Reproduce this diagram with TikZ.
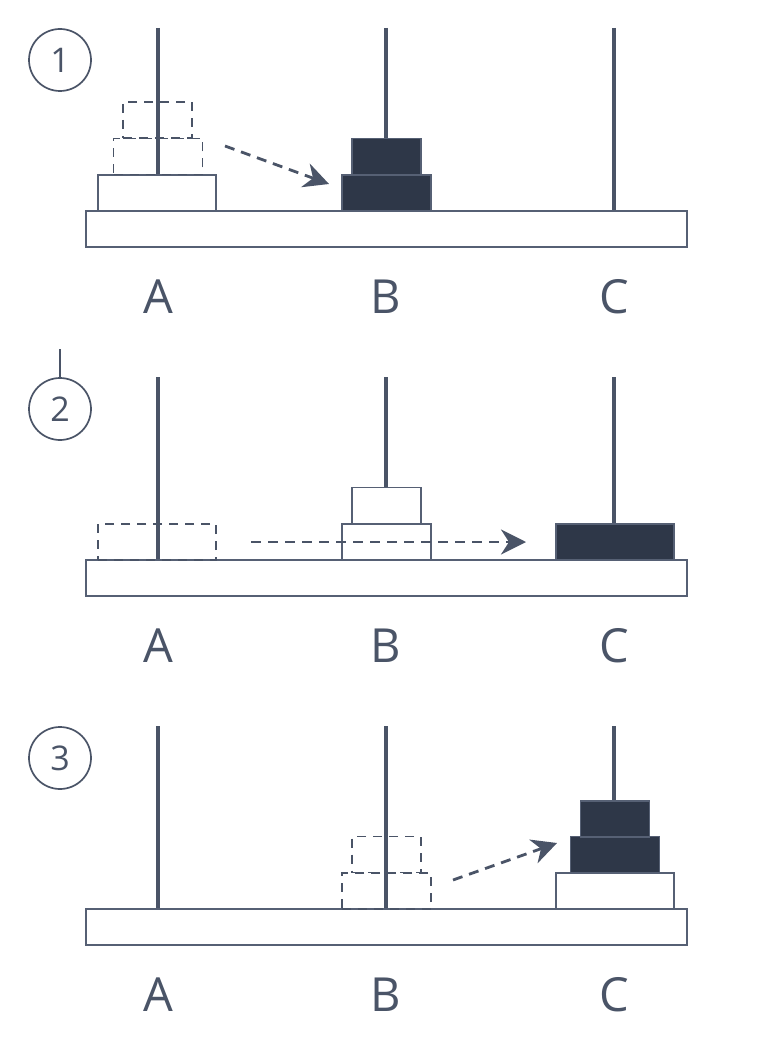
\documentclass[tikz,border=0pt]{standalone}
\usepackage{fontspec}
\setmainfont{Open Sans}
\usetikzlibrary{arrows.meta}
\definecolor{ink}{HTML}{4A5467}
\definecolor{edge}{HTML}{566074}
\definecolor{darkdisk}{HTML}{2E3748}
\begin{document}
\begin{tikzpicture}[x=1pt,y=-1pt,
  rod/.style={draw=ink,line width=3.4pt},
  basebox/.style={draw=edge,fill=white,line width=1.9pt,inner sep=0pt,minimum width=601pt,minimum height=36pt},
  disk/.style={draw=edge,fill=white,line width=1.9pt,inner sep=0pt,minimum height=36pt},
  ghost/.style={draw=ink,dash pattern=on 9pt off 7pt,line width=1.6pt,inner sep=0pt,minimum height=36pt},
  dark/.style={draw=edge,fill=darkdisk,line width=1.9pt,inner sep=0pt,minimum height=36pt},
  big/.style={minimum width=118pt},
  mid/.style={minimum width=89pt},
  small/.style={minimum width=69pt},
  mv/.style={draw=ink,line width=2.8pt,dash pattern=on 10pt off 7pt,-{Stealth[length=25pt,width=25pt,inset=8pt]}},
  lbl/.style={text=ink,font=\fontsize{47}{47}\selectfont,anchor=base,inner sep=0pt},
  num/.style={draw=ink,line width=1.7pt,circle,minimum size=62pt,inner sep=0pt,text=ink,font=\fontsize{34}{34}\selectfont},
]
\useasboundingbox (0,0) rectangle (773,1048);
\fill[white] (0,0) rectangle (773,1048);

% ---------- Panel 1 ----------
\node[num] (n1) at (60,60) {1};
\node[basebox] (base1) at (386.5,229) {};
\coordinate (rA1) at (158,28);
\coordinate (rB1) at (386,28);
\coordinate (rC1) at (614,28);
\draw[rod] (rA1) -- (base1.north -| rA1);
\draw[rod] (rB1) -- (base1.north -| rB1);
\draw[rod] (rC1) -- (base1.north -| rC1);
\node[disk,big] (a1L) at (157,193) {};
\node[ghost,mid] (a1M) at (158,156.5) {};
\node[ghost,small] (a1S) at (157.5,120) {};
\node[dark,mid] (b1M) at (386.5,193) {};
\node[dark,small] (b1S) at (386.5,156.5) {};
\coordinate (s1) at (225,146);
\coordinate (e1) at (329,184);
\draw[mv] (s1) -- (e1);
\node[lbl] (A1) at (158,313) {A};
\node[lbl] (B1) at (386,313) {B};
\node[lbl] (C1) at (614,313) {C};

% ---------- Panel 2 ----------
\node[num] (n2) at (60,409) {2};
\coordinate (t2) at (60,349);
\draw[draw=ink,line width=1.5pt] (t2) -- (n2.north);
\node[basebox] (base2) at (386.5,578) {};
\coordinate (rA2) at (158,377);
\coordinate (rB2) at (386,377);
\coordinate (rC2) at (614,377);
\draw[rod] (rA2) -- (base2.north -| rA2);
\draw[rod] (rB2) -- (base2.north -| rB2);
\draw[rod] (rC2) -- (base2.north -| rC2);
\node[ghost,big] (a2L) at (157,542) {};
\node[disk,mid] (b2M) at (386.5,542) {};
\node[disk,small] (b2S) at (386.5,505.5) {};
\node[dark,big] (c2L) at (615,542) {};
\coordinate (s2) at (251,542);
\coordinate (e2) at (526,542);
\draw[mv] (s2) -- (e2);
\node[lbl] (A2) at (158,662) {A};
\node[lbl] (B2) at (386,662) {B};
\node[lbl] (C2) at (614,662) {C};

% ---------- Panel 3 ----------
\node[num] (n3) at (60,758) {3};
\node[basebox] (base3) at (386.5,927) {};
\coordinate (rA3) at (158,726);
\coordinate (rB3) at (386,726);
\coordinate (rC3) at (614,726);
\draw[rod] (rA3) -- (base3.north -| rA3);
\draw[rod] (rB3) -- (base3.north -| rB3);
\draw[rod] (rC3) -- (base3.north -| rC3);
\node[ghost,mid] (b3M) at (386.5,891) {};
\node[ghost,small] (b3S) at (386.5,854.5) {};
\node[disk,big] (c3L) at (615,891) {};
\node[dark,mid] (c3M) at (615,854.5) {};
\node[dark,small] (c3S) at (615,819) {};
\coordinate (s3) at (453,880);
\coordinate (e3) at (557,843);
\draw[mv] (s3) -- (e3);
\node[lbl] (A3) at (158,1011) {A};
\node[lbl] (B3) at (386,1011) {B};
\node[lbl] (C3) at (614,1011) {C};
\end{tikzpicture}
\end{document}
